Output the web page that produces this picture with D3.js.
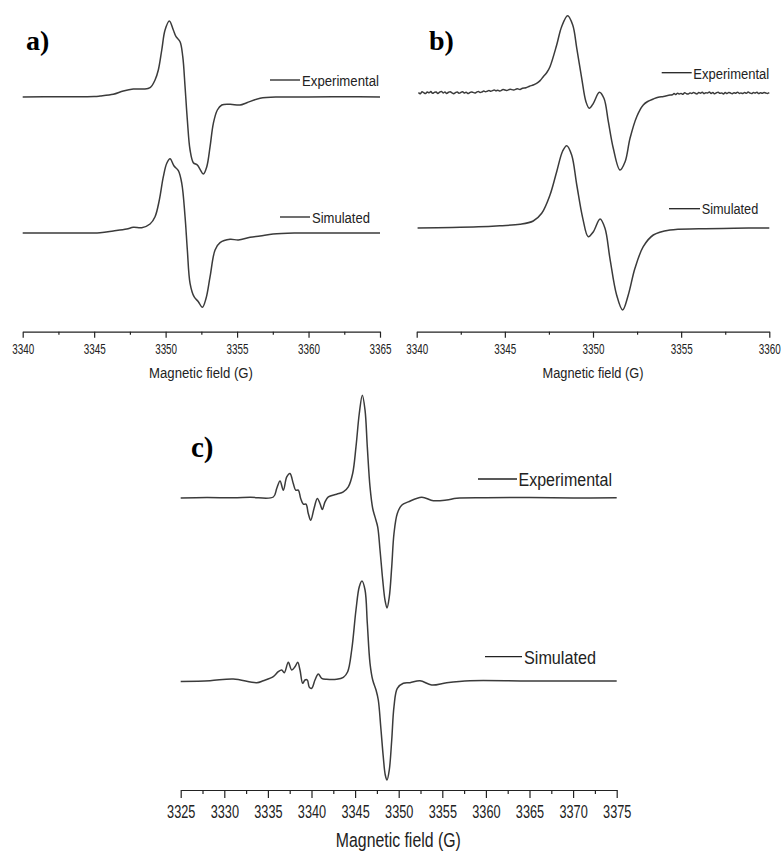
<!DOCTYPE html>
<html><head><meta charset="utf-8">
<script src="https://cdn.jsdelivr.net/npm/d3@7"></script>
<style>
html,body{margin:0;padding:0;background:#fff;}
svg{display:block;}
</style></head>
<body>
<svg id="chart" width="783" height="852"></svg>
<script>
// ---------------- DATA (field in G, amplitude in arbitrary units) ----------------
const aTicksMajor = [3340, 3345, 3350, 3355, 3360, 3365];
const aTicksMinor = [3342.5, 3347.5, 3352.5, 3357.5, 3362.5];
const bTicksMajor = [3340, 3345, 3350, 3355, 3360];
const bTicksMinor = [3342.5, 3347.5, 3352.5, 3357.5];
const cTicksMajor = [3325, 3330, 3335, 3340, 3345, 3350, 3355, 3360, 3365, 3370, 3375];
const cTicksMinor = [3327.5, 3332.5, 3337.5, 3342.5, 3347.5, 3352.5, 3357.5, 3362.5, 3367.5, 3372.5];
const seriesNames = ["Experimental", "Simulated"];
const axisTitle = "Magnetic field (G)";
const panelLabels = ["a)", "b)", "c)"];

const aExp = [[3340.0,0],[3342.5,0.3],[3345.0,0.5],[3345.41,1.0],[3346.34,2.7],[3347.04,6],[3347.74,8],
  [3348.44,8],[3348.91,9.3],[3349.26,17],[3349.49,27],[3349.73,47],[3349.96,67],[3350.26,76],[3350.54,67],
  [3350.73,60.3],[3351.01,55.3],[3351.2,40.3],[3351.36,10.3],[3351.52,-23],[3351.71,-53],[3351.94,-65.7],
  [3352.22,-68],[3352.41,-72.3],[3352.64,-77],[3352.88,-69.7],[3353.11,-49.7],[3353.34,-26.3],[3353.62,-13],
  [3353.93,-8],[3354.51,-7.3],[3355.21,-8],[3355.68,-5.7],[3356.61,-1.3],[3358,0],[3360,0],[3362.5,0.2],[3365,0]];
const aSim = [[3340.0,0],[3343.0,0],[3345.41,0.3],[3346.34,2],[3347.28,4],[3347.74,5.7],[3348.33,5.3],
  [3348.91,9],[3349.26,16.3],[3349.56,33],[3349.84,56.3],[3350.08,69.7],[3350.31,74.3],[3350.59,67],
  [3350.89,62.3],[3351.13,49.7],[3351.36,16.3],[3351.52,-17],[3351.71,-50.3],[3351.99,-63.7],[3352.29,-68.7],
  [3352.57,-74.3],[3352.83,-65.3],[3353.11,-43.7],[3353.46,-17],[3353.81,-9.7],[3354.51,-6.3],[3355.09,-7],
  [3355.91,-4.3],[3356.61,-3],[3357.52,-1],[3359,0],[3362,0],[3365,0]];

const bExp = [[3340.1,0.5],[3340.2,-0.8],[3340.3,1.2],[3340.4,0.3],[3340.5,-0.6],[3340.6,1.0],[3340.7,0.2],
  [3340.8,1.4],[3340.9,-0.3],[3341.0,0.6],[3341.1,1.1],[3341.2,-0.5],[3341.3,0.8],[3341.4,1.6],[3341.5,0.1],
  [3341.6,0.9],[3341.7,-0.4],[3341.8,0.7],[3341.9,1.3],[3342.0,0.2],[3342.1,-0.7],[3342.2,0.4],[3342.3,1.0],
  [3342.4,-0.2],[3342.5,0.5],[3342.6,1.2],[3342.7,0.0],[3342.8,0.8],[3342.9,-0.5],[3343.0,0.3],[3343.1,1.1],
  [3343.2,0.6],[3343.3,-0.1],[3343.4,0.9],[3343.5,1.5],[3343.6,0.4],[3343.7,1.0],[3343.8,2.0],[3343.9,1.3],
  [3344.0,1.8],[3344.1,2.6],[3344.2,1.7],[3344.3,2.4],[3344.4,3.0],[3344.5,2.2],[3344.6,2.8],[3344.72,2.0],
  [3344.9,3.4],[3345.1,2.6],[3345.3,3.8],[3345.5,3.0],[3345.7,4.2],[3345.86,3.6],[3346.0,4.8],[3346.2,5.2],
  [3346.4,6.8],[3346.61,8],[3346.8,9.6],[3347.0,12.4],[3347.18,16.3],[3347.38,20.5],[3347.56,26.3],
  [3347.94,48],[3348.22,66.3],[3348.56,77.3],[3348.85,68],[3349.08,44.7],[3349.36,14.7],[3349.6,-8.7],
  [3349.79,-15.3],[3350.02,-10.3],[3350.36,0.7],[3350.62,-5.3],[3350.87,-28.7],[3351.15,-55.3],[3351.53,-77],
  [3351.82,-68.7],[3352.1,-45.3],[3352.48,-23.7],[3352.85,-12],[3353.1,-8.5],[3353.42,-6],[3353.7,-4.2],
  [3354.0,-3.4],[3354.37,-2],[3354.5,-1.8],[3354.6,-0.6],[3354.7,-1.5],[3354.8,-0.2],[3354.9,-1.0],[3355.0,-0.4],
  [3355.1,-1.3],[3355.2,0.2],[3355.3,-0.7],[3355.4,-1.1],[3355.5,0.1],[3355.6,-0.5],[3355.7,0.6],[3355.8,-0.3],
  [3355.9,-0.9],[3356.0,0.4],[3356.1,-0.2],[3356.2,0.8],[3356.3,-0.6],[3356.4,0.3],[3356.5,-0.1],[3356.6,1.0],
  [3356.7,-0.4],[3356.8,0.5],[3356.9,-0.8],[3357.0,0.2],[3357.1,0.7],[3357.2,-0.3],[3357.3,0.1],[3357.4,-0.9],
  [3357.5,0.4],[3357.6,-0.5],[3357.7,0.6],[3357.8,0.0],[3357.9,-0.7],[3358.0,0.3],[3358.1,-0.2],[3358.2,0.8],
  [3358.3,-0.4],[3358.4,0.1],[3358.5,-0.6],[3358.6,0.5],[3358.7,-0.3],[3358.8,0.9],[3358.9,0.0],[3359.0,-0.5],
  [3359.1,0.4],[3359.2,-0.1],[3359.3,0.7],[3359.4,-0.6],[3359.5,0.2],[3359.6,-0.3],[3359.7,0.6],[3359.8,0.0],
  [3359.9,-0.4],[3360.0,0.3]];
const bSim = [[3340.05,0],[3342,0.5],[3343.5,1.2],[3344.72,2.3],[3345.86,3.7],[3346.61,7],[3347.09,14.7],
  [3347.56,33],[3347.94,56.3],[3348.28,77],[3348.51,82.3],[3348.79,73],[3349.08,43],[3349.42,9.7],
  [3349.73,-8.7],[3350.02,-3.7],[3350.4,9],[3350.68,-0.3],[3350.96,-30.3],[3351.34,-67],[3351.68,-82],
  [3352.0,-67],[3352.38,-40.3],[3352.85,-18.7],[3353.42,-7],[3354.37,-2],[3356,-0.8],[3358,-0.2],[3360,0]];

const cExp = [[3325,-0.5],[3328,0],[3331,-0.3],[3332.95,0.2],[3335.62,0.5],[3336.01,9],[3336.39,16.6],
  [3336.77,7.3],[3337.16,20.6],[3337.53,24],[3337.91,14],[3338.19,7.3],[3338.49,7.3],[3338.76,-1],
  [3339.06,-6.7],[3339.37,-6.7],[3339.63,-16],[3339.91,-22.7],[3340.29,-11],[3340.67,-1],[3340.97,-6],
  [3341.24,-12],[3341.55,-4.4],[3341.93,0.6],[3342.89,3.3],[3343.65,5.6],[3344.22,10.6],[3344.72,24],
  [3345.1,50.6],[3345.48,84],[3345.83,102.3],[3346.14,87.3],[3346.4,50.6],[3346.71,10.6],[3347.02,-11],
  [3347.28,-19.4],[3347.59,-29.4],[3347.86,-52.7],[3348.17,-82.7],[3348.43,-102.7],[3348.66,-110.4],
  [3348.92,-99.4],[3349.2,-69.4],[3349.46,-36],[3349.84,-16],[3350.34,-7.7],[3351.1,-4.4],[3352.64,0.2],
  [3353.97,-3.2],[3355.5,-2.5],[3356.65,-0.8],[3360,-0.3],[3365,0],[3370,-0.4],[3375,-0.3]];
const cSim = [[3325,-0.5],[3328.36,0.3],[3331.03,2],[3333.72,-1.7],[3334.47,0.3],[3335.62,4.3],[3336.19,9.3],
  [3336.58,11],[3336.88,8.3],[3337.34,18.7],[3337.73,11],[3338.11,14.3],[3338.42,18.7],[3338.68,11],
  [3338.99,-2.3],[3339.25,1],[3339.52,1],[3339.75,-6.3],[3340.02,-7.3],[3340.4,1],[3340.78,7],[3341.17,2.7],
  [3341.74,1.7],[3342.89,1.7],[3343.65,3.7],[3344.15,9.3],[3344.61,31],[3345.1,71],[3345.48,94.3],
  [3345.79,100],[3346.14,91],[3346.4,57.7],[3346.71,17.7],[3347.02,1],[3347.4,-9],[3347.66,-19],
  [3347.94,-45.7],[3348.23,-75.7],[3348.46,-94],[3348.66,-99],[3348.92,-89],[3349.2,-59],[3349.46,-25.7],
  [3349.84,-7.3],[3350.53,-2.3],[3351.3,-1.7],[3352.44,0.3],[3353.78,-4],[3355.5,-1.7],[3358.18,0.3],
  [3365,0],[3375,0]];

// ---------------- LAYOUT ----------------
const svg = d3.select("#chart");
const ink = "#222";
const curveColor = "#3b3b3b";
const sansFont = "'Liberation Sans', Arial, sans-serif";

// squeeze a text horizontally to a target width (the reference uses a condensed face)
function fitText(sel, x, y, target, anchor) {
  sel.attr("x", 0).attr("y", 0).attr("dy", null).attr("text-anchor", anchor);
  const w = sel.node().getComputedTextLength();
  const sx = target / w;
  sel.attr("transform", `translate(${x},${y}) scale(${sx},1)`);
}

const panels = [
  { label: panelLabels[0], domainX: [3340, 3365], rangeX: [22.7, 380], axisY: 331.7,
    domainY: [-234.7, 97], rangeY: [331.7, 0], exp: aExp, sim: aSim, simOffset: -136,
    major: aTicksMajor, minor: aTicksMinor, tickLen: 6, minorLen: 3, tickFont: 15, tickLenText: 22, tickBase: 354,
    titleX: 201, titleY: 378, titleFont: 14.5, titleLen: 104,
    labelX: 26, labelY: 50, labelFont: 28,
    legend: [ {x1: 270, x2: 300, y: 80, tx: 302, ty: 86, font: 15, len: 77},
              {x1: 280, x2: 310, y: 217, tx: 312, ty: 222.7, font: 15, len: 58} ] },
  { label: panelLabels[1], domainX: [3340, 3360], rangeX: [416.7, 769.3], axisY: 331.7,
    domainY: [-238.7, 93], rangeY: [331.7, 0], exp: bExp, sim: bSim, simOffset: -135,
    major: bTicksMajor, minor: bTicksMinor, tickLen: 6, minorLen: 3, tickFont: 15, tickLenText: 22, tickBase: 354,
    titleX: 593, titleY: 378, titleFont: 14.5, titleLen: 101,
    labelX: 429, labelY: 50, labelFont: 28,
    legend: [ {x1: 661.7, x2: 691.7, y: 72.7, tx: 693.3, ty: 79.3, font: 15.5, len: 76},
              {x1: 669, x2: 700, y: 208.7, tx: 701.7, ty: 214.3, font: 15.5, len: 56.6} ] },
  { label: panelLabels[2], domainX: [3325, 3375], rangeX: [180.7, 616.7], axisY: 790,
    domainY: [-292.5, 137.5], rangeY: [790, 360], exp: cExp, sim: cSim, simOffset: -183.5,
    major: cTicksMajor, minor: cTicksMinor, tickLen: 8, minorLen: 4, tickFont: 18.6, tickLenText: 28.3, tickBase: 818.3,
    titleX: 398.3, titleY: 846.5, titleFont: 19.5, titleLen: 125,
    labelX: 191, labelY: 456.7, labelFont: 29,
    legend: [ {x1: 478, x2: 517, y: 479, tx: 518.5, ty: 486, font: 18.5, len: 93.5},
              {x1: 485, x2: 522, y: 656.7, tx: 524, ty: 664, font: 18.5, len: 72} ] }
];

panels.forEach(p => {
  const x = d3.scaleLinear().domain(p.domainX).range(p.rangeX);
  const y = d3.scaleLinear().domain(p.domainY).range(p.rangeY);
  const g = svg.append("g");

  const line = d3.line()
    .x(d => x(d[0]))
    .y(d => y(d[1]))
    .curve(d3.curveCatmullRom.alpha(0.5));

  g.append("path").datum(p.exp)
    .attr("d", line).attr("fill", "none")
    .attr("stroke", curveColor).attr("stroke-width", 1.5).attr("stroke-linejoin", "round");
  g.append("path").datum(p.sim.map(d => [d[0], d[1] + p.simOffset]))
    .attr("d", line).attr("fill", "none")
    .attr("stroke", curveColor).attr("stroke-width", 1.5).attr("stroke-linejoin", "round");

  // minor ticks
  const minorAxis = d3.axisBottom(x).tickValues(p.minor).tickSize(p.minorLen).tickSizeOuter(0).tickFormat("");
  const gm = g.append("g").attr("transform", `translate(0,${p.axisY})`).call(minorAxis);
  gm.select(".domain").remove();
  gm.selectAll("line").attr("stroke", ink).attr("stroke-width", 1.2);

  // major ticks
  const majorAxis = d3.axisBottom(x).tickValues(p.major).tickSize(p.tickLen).tickSizeOuter(0).tickFormat(d3.format("d"));
  const ga = g.append("g").attr("transform", `translate(0,${p.axisY})`).call(majorAxis);
  ga.select(".domain").attr("stroke", ink).attr("stroke-width", 1.2);
  ga.selectAll("line").attr("stroke", ink).attr("stroke-width", 1.2);
  ga.selectAll("text")
    .attr("fill", ink)
    .style("font-family", sansFont)
    .style("font-size", p.tickFont + "px")
    .each(function() { fitText(d3.select(this), 0, p.tickBase - p.axisY, p.tickLenText, "middle"); });

  // axis title
  const t = g.append("text").text(axisTitle)
    .attr("fill", ink)
    .style("font-family", sansFont)
    .style("font-size", p.titleFont + "px");
  fitText(t, p.titleX, p.titleY, p.titleLen, "middle");

  // legend
  p.legend.forEach((L, i) => {
    g.append("line").attr("x1", L.x1).attr("x2", L.x2).attr("y1", L.y).attr("y2", L.y)
      .attr("stroke", ink).attr("stroke-width", 1.3);
    const lt = g.append("text").text(seriesNames[i])
      .attr("fill", ink)
      .style("font-family", sansFont)
      .style("font-size", L.font + "px");
    fitText(lt, L.tx, L.ty, L.len, "start");
  });

  // panel label
  g.append("text").text(p.label)
    .attr("x", p.labelX).attr("y", p.labelY).attr("fill", "#000")
    .style("font-family", "'Liberation Serif', 'Times New Roman', serif")
    .style("font-weight", "bold")
    .style("font-size", p.labelFont + "px");
});
</script>
</body></html>
